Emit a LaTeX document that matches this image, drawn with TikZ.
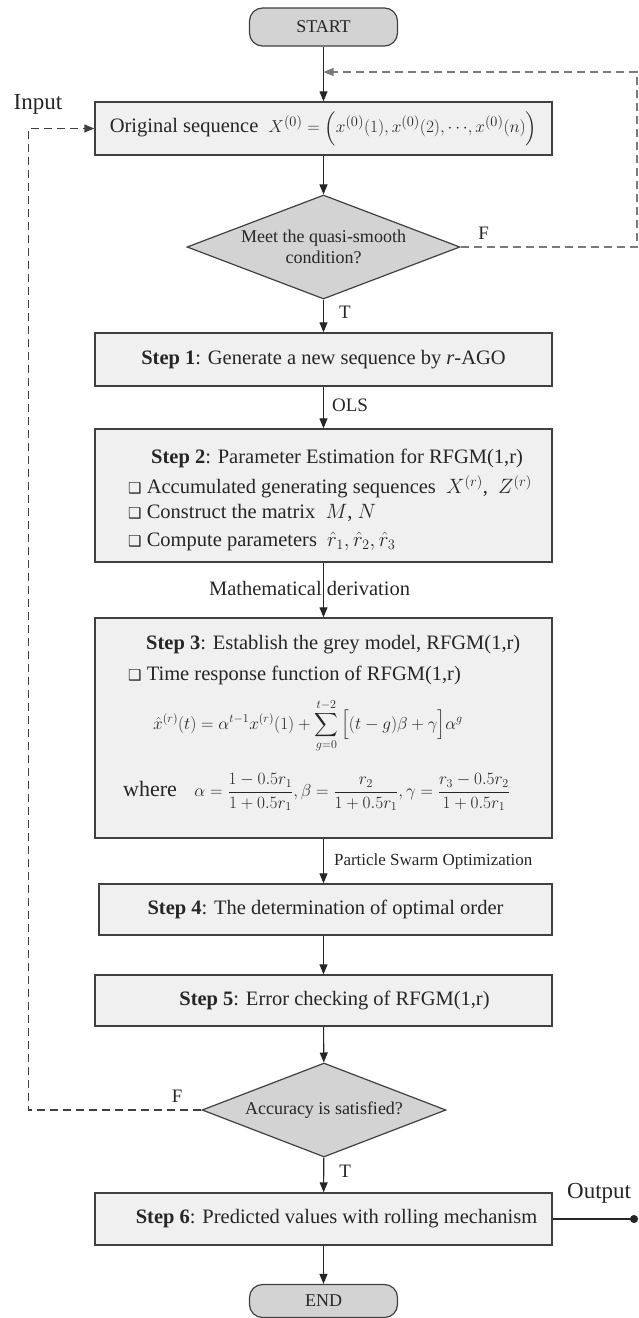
\documentclass[tikz,border=0pt]{standalone}
\usepackage{amsmath,amssymb}
\usepackage{fontspec}
\setmainfont{Liberation Serif}
\newfontfamily\boxsym{DejaVu Sans}
\usetikzlibrary{arrows.meta,positioning,calc,shapes.geometric}
\definecolor{BoxGrey}{HTML}{F0F0F0}
\definecolor{ShapeGrey}{HTML}{D3D3D3}
\definecolor{EdgeGrey}{HTML}{404040}
\definecolor{InkGrey}{HTML}{262626}
\definecolor{RailGrey}{HTML}{7A7A7A}
\newcommand{\flowtext}{\fontsize{20.5}{24}\selectfont}
\newcommand{\decidetext}{\fontsize{18}{21}\selectfont}
\newcommand{\edgetext}{\fontsize{19}{22}\selectfont}
\newcommand{\mathtext}{\fontsize{16.5}{18}\selectfont}
\newcommand{\bulletmark}{{\boxsym\fontsize{15}{15}\selectfont ❑}}
\tikzset{
  flowbox/.style={draw=EdgeGrey, fill=BoxGrey, line width=1.4pt, minimum width=457pt,
    minimum height=53pt, inner sep=0pt, text=InkGrey, font=\flowtext},
  terminal/.style={draw=EdgeGrey, fill=ShapeGrey, rounded corners=13pt, line width=1.2pt,
    minimum width=148pt, minimum height=38pt, text=InkGrey, font=\fontsize{18}{20}\selectfont},
  decide/.style={diamond, aspect=2.6, draw=EdgeGrey, fill=ShapeGrey, line width=1.2pt,
    inner sep=0pt, align=center, text=InkGrey, font=\decidetext},
  inline/.style={anchor=west, inner sep=0pt, text=InkGrey, font=\flowtext},
  edgelabel/.style={inner sep=1pt, text=InkGrey, font=\edgetext},
  flow/.style={-{Triangle[length=10pt,width=8pt]}, line width=1.1pt, draw=InkGrey},
  loopback/.style={flow, dash pattern=on 8pt off 5pt},
}

\begin{document}
\begin{tikzpicture}[x=1pt,y=1pt]
  \useasboundingbox (0,0) rectangle (639,-1318);

  % main column
  \node[terminal] (start) at (323.5,-27) {START};
  \node[flowbox] (orig) at (323.5,-128.5)
    {Original sequence \ {\fontsize{19}{21}\selectfont$X^{(0)}=\left(x^{(0)}(1),x^{(0)}(2),\cdots\!,x^{(0)}(n)\right)$}};
  \node[decide, minimum width=273pt, minimum height=104pt] (smooth) at (323.5,-247)
    {Meet the quasi-smooth\\condition?};
  \node[flowbox] (step1) at (323.5,-359.5)
    {\textbf{Step 1}: Generate a new sequence by \textit{r}-AGO};
  \node[flowbox, minimum height=133pt] (step2) at (323.5,-495.5) {};
  \node[flowbox, minimum height=220pt] (step3) at (323.5,-728) {};
  \node[flowbox, minimum width=453pt, minimum height=51pt] (step4) at (325.5,-909.5)
    {\textbf{Step 4}: The determination of optimal order};
  \node[flowbox, minimum height=51pt] (step5) at (323.5,-1000.5)
    {\hspace*{22pt}\textbf{Step 5}: Error checking of RFGM(1,r)};
  \node[decide, minimum width=244pt, minimum height=94pt] (accur) at (324,-1110)
    {Accuracy is satisfied?};
  \node[flowbox, minimum height=52pt] (step6) at (323.5,-1219)
    {\hspace*{26pt}\textbf{Step 6}: Predicted values with rolling mechanism};
  \node[terminal, minimum height=33pt] (end) at (323.5,-1301) {END};

  % contents of step 2
  \node[inline] (s2title) at (151,-458) {\textbf{Step 2}: Parameter Estimation for RFGM(1,r)};
  \node[inline] (s2seq) at (128,-487)
    {\bulletmark\ Accumulated generating sequences \ $X^{(r)}$, \ $Z^{(r)}$};
  \node[inline] (s2mat) at (128,-513) {\bulletmark\ Construct the matrix \ $M$, $N$};
  \node[inline] (s2par) at (128,-541)
    {\bulletmark\ Compute parameters \ $\hat{r}_1,\hat{r}_2,\hat{r}_3$};

  % contents of step 3
  \node[inline] (s3title) at (146,-645) {\textbf{Step 3}: Establish the grey model, RFGM(1,r)};
  \node[inline] (s3item) at (128,-675) {\bulletmark\ Time response function of RFGM(1,r)};
  \node[inline, font=\mathtext] (s3eq) at (153,-726)
    {$\displaystyle \hat{x}^{(r)}(t)=\alpha^{t-1}x^{(r)}(1)+\sum_{g=0}^{t-2}\Big[(t-g)\beta+\gamma\Big]\alpha^{g}$};
  \node[inline, font=\fontsize{17.5}{20}\selectfont] (s3where) at (123,-792)
    {{\fontsize{22}{24}\selectfont where}\quad $\displaystyle \alpha=\frac{1-0.5r_1}{1+0.5r_1},\beta=\frac{r_2}{1+0.5r_1},\gamma=\frac{r_3-0.5r_2}{1+0.5r_1}$};

  % side labels
  \node[edgelabel, font=\fontsize{23}{25}\selectfont] (inlabel) at (38,-104) {Input};
  \node[edgelabel, anchor=west, font=\fontsize{23}{25}\selectfont] (outlabel) at (566,-1193) {Output};
  \coordinate (merge) at (323.5,-72);
  \coordinate (rightrail) at (637,-72);
  \coordinate (leftrail) at (28.5,-1110);
  \coordinate (outdot) at (638,-1219);

  % connectors
  \draw[flow] (start) -- (orig);
  \draw[flow] (orig) -- (smooth);
  \draw[flow] (smooth) -- node[edgelabel, pos=0.4, right=14pt] {T} (step1);
  \draw[flow] (step1) -- node[edgelabel, pos=0.44, right=7pt] {OLS} (step2);
  \draw[flow] (step2) -- node[edgelabel, pos=0.48, xshift=-14pt, font=\flowtext]
    {Mathematical derivation} (step3);
  \draw[flow] (step3) -- node[edgelabel, pos=0.52, right=9pt, font=\fontsize{17}{19}\selectfont]
    {Particle Swarm Optimization} (step4.north -| step3.south);
  \draw[flow] (step4.south -| step5.north) -- (step5);
  \draw[flow] (step5) -- (accur);
  \draw[flow] (accur) -- node[edgelabel, pos=0.4, right=14pt] {T} (step6);
  \draw[flow] (step6) -- (end);
  \draw[line width=1.1pt, draw=InkGrey, -{Circle[length=8pt]}] (step6) -- (outdot);

  % feedback loops
  \draw[loopback, draw=RailGrey] (smooth.east)
    -- node[edgelabel, pos=0.13, above=6pt] {F} (smooth.east -| rightrail) |- (merge);
  \draw[loopback, draw=EdgeGrey] (accur.west)
    -- node[edgelabel, pos=0.14, above=6pt] {F} (leftrail) |- (orig.west);
\end{tikzpicture}
\end{document}
